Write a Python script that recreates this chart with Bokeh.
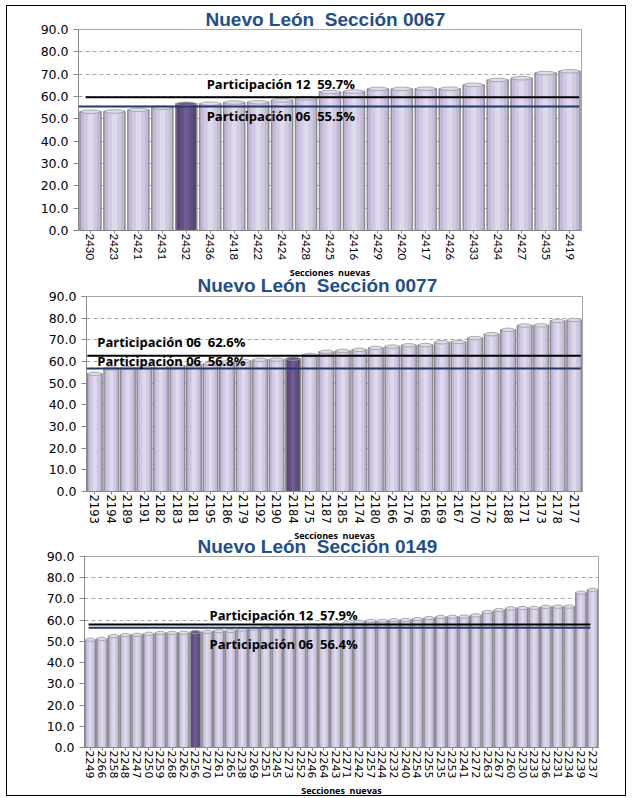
from bokeh.plotting import figure
from bokeh.models import Range1d, FactorRange, FixedTicker, NumeralTickFormatter, Label, Title
from bokeh.embed import file_html
from bokeh.resources import INLINE

# ---------------- data ----------------
titles = ["Nuevo León\u00a0\u00a0Sección 0067", "Nuevo León\u00a0\u00a0Sección 0077",
          "Nuevo León\u00a0\u00a0Sección 0149"]

cats_0067 = ["2430", "2423", "2421", "2431", "2432", "2436", "2418", "2422", "2424", "2428", "2425",
             "2416", "2429", "2420", "2417", "2426", "2433", "2434", "2427", "2435", "2419"]
vals_0067 = [53.2, 53.3, 54.0, 55.0, 56.7, 56.8, 57.3, 57.4, 58.3, 59.2, 62.0,
             62.2, 63.4, 63.4, 63.5, 63.5, 65.2, 67.4, 68.2, 70.5, 71.3]
hi_0067 = "2432"

cats_0077 = ["2193", "2194", "2189", "2191", "2182", "2183", "2181", "2195", "2186", "2179", "2192",
             "2190", "2184", "2175", "2187", "2185", "2174", "2180", "2166", "2176", "2168", "2169",
             "2167", "2170", "2172", "2188", "2171", "2173", "2178", "2177"]
vals_0077 = [54.3, 56.8, 57.0, 57.2, 57.5, 58.0, 58.5, 59.0, 59.6, 60.2, 60.8,
             60.9, 61.3, 63.0, 64.5, 64.9, 65.4, 66.3, 66.9, 67.5, 67.6, 68.9,
             69.0, 70.8, 72.6, 74.6, 76.6, 76.7, 78.7, 79.2]
hi_0077 = "2184"

cats_0149 = ["2249", "2266", "2258", "2248", "2247", "2250", "2259", "2268", "2262", "2256", "2270",
             "2261", "2265", "2238", "2269", "2251", "2245", "2273", "2252", "2246", "2264", "2243",
             "2271", "2242", "2257", "2244", "2232", "2240", "2254", "2255", "2235", "2253", "2241",
             "2272", "2263", "2267", "2260", "2230", "2233", "2236", "2231", "2234", "2239", "2237"]
vals_0149 = [50.8, 51.2, 52.5, 53.0, 53.1, 53.6, 54.0, 54.0, 54.1, 54.4, 54.5,
             54.9, 55.0, 55.6, 56.0, 56.5, 56.6, 57.0, 57.1, 57.5, 57.6, 58.0,
             58.6, 59.2, 59.6, 59.7, 60.0, 60.1, 60.5, 61.0, 61.5, 61.6, 61.7,
             62.3, 63.8, 64.8, 65.6, 65.7, 65.8, 66.3, 66.4, 66.4, 73.0, 74.3]
hi_0149 = "2256"

part_label_top = ["Participación 12\u00a0\u00a059.7%", "Participación 06\u00a0\u00a062.6%",
                  "Participación 12\u00a0\u00a057.9%"]
part_value_top = [59.7, 62.6, 57.9]
part_label_bot = ["Participación 06\u00a0\u00a055.5%", "Participación 06\u00a0\u00a056.8%",
                  "Participación 06\u00a0\u00a056.4%"]
part_value_bot = [55.5, 56.8, 56.4]

axis_title = "Secciones\u00a0\u00a0nuevas"
y_ticks = [0, 10, 20, 30, 40, 50, 60, 70, 80, 90]

# ---------------- styling / layout (not data) ----------------
W = 620
BL = "1px solid black"
cfg = [
    dict(h=272, top=23, left=71, right=46, bottom=40, xfs="11.5px", xfont="Lato", tstand=0,
         toff=127, seg_top=(0.3, 20.9), seg_bot=(0.0, 20.9),
         lab_top=(5.35, 65.5), lab_bot=(5.35, 51.3),
         styles={"border-top": BL, "border-left": BL, "border-right": BL,
                 "margin-left": "6px", "margin-top": "5px"}),
    dict(h=269, top=24, left=79, right=45, bottom=40, xfs="11.5px", xfont="DejaVu Sans", tstand=1,
         toff=111, seg_top=(0.05, 29.9), seg_bot=(0.0, 29.9),
         lab_top=(0.65, 69.0), lab_bot=(0.65, 60.3),
         styles={"border-left": BL, "border-right": BL, "margin-left": "6px",
                 "margin-top": "-5px"}),
    dict(h=263, top=23, left=77, right=29, bottom=40, xfs="11px", xfont="DejaVu Sans", tstand=0,
         toff=113, seg_top=(0.35, 43.3), seg_bot=(0.35, 43.3),
         lab_top=(10.7, 62.5), lab_bot=(10.7, 49.0),
         styles={"border-left": BL, "border-right": BL, "border-bottom": BL,
                 "margin-left": "6px", "margin-top": "-8px"}),
]

LIGHT_BASE = "#C2B8D8"
LIGHT_MID = "#D1C9E3"
LIGHT_HI = "#DEDAEC"
DARK_BASE = "#584475"
DARK_MID = "#634F84"
DARK_HI = "#6F5C91"


def make_chart(i, cats, vals, hi):
    c = cfg[i]
    p = figure(width=W, height=c["h"], x_range=FactorRange(factors=cats),
               y_range=Range1d(0, 90), output_backend="svg", toolbar_location=None,
               min_border_top=c["top"], min_border_left=c["left"],
               min_border_right=c["right"], min_border_bottom=c["bottom"],
               title=titles[i], styles=c["styles"])
    p.title.text_font = "Liberation Sans"
    p.title.text_font_style = "bold"
    p.title.text_font_size = "19px"
    p.title.text_color = "#1F4E8C"
    p.title.align = "left"
    p.title.standoff = c["tstand"]
    p.title.offset = c["toff"]

    p.outline_line_color = "#A6A6A6"
    p.outline_line_width = 1
    p.background_fill_color = "white"
    p.border_fill_color = None

    p.xgrid.grid_line_color = None
    p.ygrid.grid_line_color = "#A6A6A6"
    p.ygrid.grid_line_dash = "4 3"
    p.ygrid.grid_line_width = 1

    p.yaxis.ticker = FixedTicker(ticks=y_ticks)
    p.yaxis.formatter = NumeralTickFormatter(format="0.0")
    p.yaxis.major_label_text_font = "DejaVu Sans"
    p.yaxis.major_label_text_font_size = "12.5px"
    p.yaxis.major_label_text_color = "black"
    p.yaxis.axis_line_color = "#888888"
    p.yaxis.major_tick_line_color = "#888888"
    p.yaxis.major_tick_out = 5
    p.yaxis.major_tick_in = 0
    p.yaxis.minor_tick_line_color = None
    p.yaxis.major_label_standoff = 5

    p.xaxis.major_label_orientation = "vertical"
    p.xaxis.major_label_text_font = c["xfont"]
    p.xaxis.major_label_text_font_size = c["xfs"]
    p.xaxis.major_label_text_color = "black"
    p.xaxis.axis_line_color = "#888888"
    p.xaxis.major_tick_line_color = "#888888"
    p.xaxis.major_tick_out = 3
    p.xaxis.major_tick_in = 0
    p.xaxis.major_label_standoff = 0

    p.add_layout(Title(text=axis_title, align="center", text_font="Open Sans",
                       text_font_style="bold", text_font_size="9px", text_color="black",
                       standoff=0), "below")

    base = [DARK_BASE if k == hi else LIGHT_BASE for k in cats]
    mid = [DARK_MID if k == hi else LIGHT_MID for k in cats]
    hic = [DARK_HI if k == hi else LIGHT_HI for k in cats]

    p.vbar(x=cats, top=vals, width=0.88, fill_color=base, line_color="#8C8C8C", line_width=1.5)
    p.vbar(x=cats, top=vals, width=0.55, fill_color=mid, line_color=None)
    p.vbar(x=cats, top=vals, width=0.22, fill_color=hic, line_color=None)
    p.ellipse(x=cats, y=vals, width=0.8, height=1.6, fill_color=hic, line_color="#9A9A9A",
              line_width=0.8)

    st, sb = c["seg_top"], c["seg_bot"]
    p.segment(x0=[st[0]], y0=[part_value_top[i]], x1=[st[1]], y1=[part_value_top[i]],
              line_color="black", line_width=2)
    p.segment(x0=[sb[0]], y0=[part_value_bot[i]], x1=[sb[1]], y1=[part_value_bot[i]],
              line_color="#1F3A68", line_width=2)

    for txt, (lx, ly) in ((part_label_top[i], c["lab_top"]), (part_label_bot[i], c["lab_bot"])):
        p.add_layout(Label(x=lx, y=ly, text=txt, text_font="Open Sans", text_font_style="bold",
                           text_font_size="13px", text_color="black", text_baseline="middle",
                           text_align="left"))
    return p


p1 = make_chart(0, cats_0067, vals_0067, hi_0067)
p2 = make_chart(1, cats_0077, vals_0077, hi_0077)
p3 = make_chart(2, cats_0149, vals_0149, hi_0149)

open("out.html", "w").write(file_html([p1, p2, p3], INLINE))
